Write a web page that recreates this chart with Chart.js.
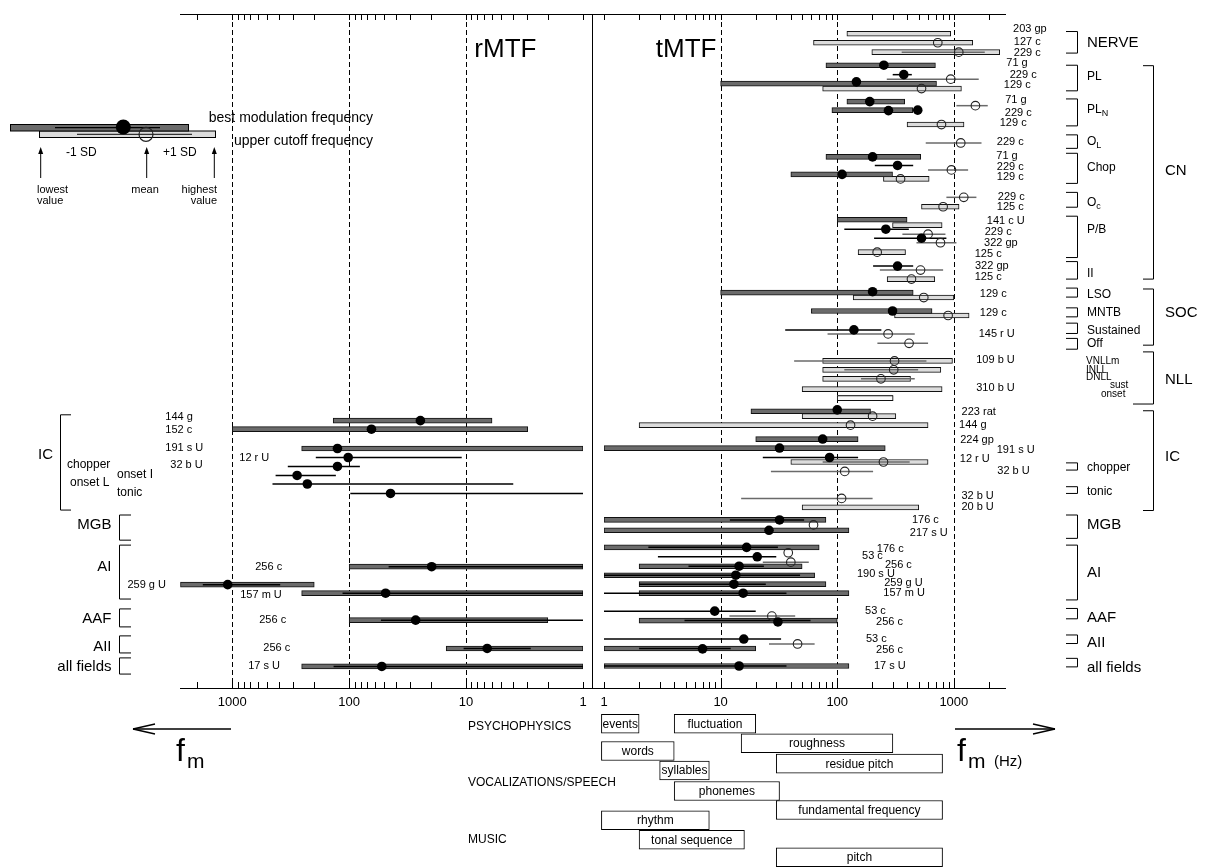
<!DOCTYPE html>
<html>
<head>
<meta charset="utf-8">
<script src="https://cdn.jsdelivr.net/npm/chart.js@4.4.1/dist/chart.umd.min.js"></script>
<style>
  body { margin: 0; background: #fff; }
  #wrap { position: relative; width: 1206px; height: 867px; background: #fff; }
  canvas { position: absolute; top: 0; }
</style>
</head>
<body>
<div id="wrap">
  <canvas id="rmtf" width="593" height="867" style="left:0"></canvas>
  <canvas id="tmtf" width="613" height="867" style="left:593px"></canvas>
  <canvas id="bands" width="1206" height="167" style="left:0;top:700px"></canvas>
</div>
<script>
// frequency axes (Hz)
const axisMax = 2800;
const decades = [1, 10, 100, 1000];
const decadeLabels = ['1', '10', '100', '1000'];
const dashedAt = [10, 100, 1000];

// rMTF (left panel) - best modulation frequency only. rows are [row, lowest, highest] or [row, mean]
const rBmfRange = [
  [90.5, 6.0, 137], [92.4, 2.97, 1000], [96.7, 1, 255],
  [123.0, 1, 100], [127.0, 199, 2773], [128.9, 1, 255],
  [134.9, 2.0, 100], [141.2, 1, 14.8], [145.2, 1, 255]
];
const rBmfMean = [
  [90.5, 24.6], [92.4, 64.5], [96.7, 126], [98.7, 102], [100.7, 126],
  [102.7, 279], [104.6, 228], [106.7, 44.3], [123.0, 19.7], [127.0, 1094],
  [128.9, 48.8], [134.9, 27], [141.2, 6.6], [145.2, 52.6]
];
const rBmfSD = [
  [98.7, 10.9, 193], [100.7, 81, 335], [102.7, 130, 426], [104.6, 3.95, 453],
  [106.7, 1, 97.8], [123.0, 1, 46], [127.0, 389, 1787], [128.9, 1, 114],
  [134.9, 1, 53.5], [141.2, 2.8, 10.5], [145.2, 1, 136]
];

// tMTF (right panel) - best modulation frequency
const tBmfRange = [
  [11.4, 80, 695], [15.5, 10, 710], [19.5, 121, 379], [21.4, 90, 444],
  [31.8, 80, 520], [35.7, 40, 298], [45.8, 100, 397], [62.0, 10, 448],
  [66.1, 60, 650], [88.4, 18.2, 193], [94.6, 20, 151], [96.6, 1, 258],
  [112.6, 1, 80], [114.9, 1, 126], [118.7, 1, 70], [122.9, 2, 50],
  [124.9, 1, 64], [126.9, 2, 80], [128.9, 2, 126], [135.0, 2, 100],
  [141.2, 1, 20], [145.1, 1, 126]
];
const tBmfMean = [
  [11.4, 251], [13.5, 372], [15.1, 146], [19.5, 190], [21.4, 490], [21.5, 275],
  [31.8, 201], [33.7, 329], [35.7, 110], [47.9, 261], [49.9, 528], [56.1, 329],
  [61.8, 201], [66.1, 298], [70.3, 139], [88.1, 100], [94.6, 75], [96.6, 32],
  [98.7, 86], [112.6, 32], [114.9, 26], [118.7, 16.7], [120.8, 20.6], [122.9, 14.4],
  [124.9, 13.5], [126.9, 13], [128.9, 15.6], [132.9, 8.9], [135.3, 31], [139.1, 15.8],
  [141.3, 7], [145.1, 14.4]
];
const tBmfSD = [
  [13.5, 299, 436], [33.7, 210, 448], [47.9, 115, 411], [49.9, 207, 863],
  [56.1, 203, 448], [70.3, 35.8, 239], [98.7, 23, 151], [112.6, 12, 52],
  [118.7, 2.4, 31], [120.8, 2.9, 30], [122.9, 5.3, 23.5], [124.9, 1, 48],
  [126.9, 2, 24.4], [128.9, 1, 36.7], [132.9, 1, 20], [135.0, 4.9, 59],
  [139.1, 1, 33], [141.2, 2, 12.2], [145.1, 1, 36.7]
];

// tMTF - upper cutoff frequency
const tUcfRange = [
  [4.4, 121, 940], [6.4, 62.6, 1452], [8.5, 198, 2473], [16.6, 75, 1161],
  [24.6, 397, 1222], [36.7, 249, 614], [42.9, 528, 1108], [47.0, 298, 793],
  [53.0, 151, 385], [59.0, 268, 686], [63.1, 137, 1000], [67.1, 310, 1351],
  [77.2, 75, 973], [79.2, 75, 773], [81.2, 75, 425], [83.5, 50, 793],
  [85.5, 100, 301], [89.5, 50, 318], [91.5, 2.0, 601], [99.7, 40, 601],
  [109.8, 50, 500]
];
const tUcfMean = [
  [6.4, 728], [8.5, 1102], [14.5, 940], [16.6, 528], [20.4, 1531], [24.6, 783],
  [28.7, 1146], [34.7, 953], [36.7, 349], [40.8, 1216], [42.9, 809], [49.0, 601],
  [50.9, 768], [53.0, 220], [57.0, 518], [59.0, 433], [63.1, 552], [67.1, 893],
  [71.2, 273], [73.3, 413], [77.2, 310], [79.2, 305], [81.2, 237], [89.5, 201],
  [91.5, 130], [99.7, 249], [101.8, 116], [107.8, 109], [113.7, 62.6], [119.9, 38],
  [122.0, 40], [134.0, 27.5], [140.2, 45.7]
];
const tUcfSD = [
  [8.5, 357, 1841], [14.5, 266, 1634], [20.4, 1052, 1953], [28.7, 574, 1726],
  [34.7, 601, 1325], [40.8, 863, 1561], [49.0, 362, 847], [50.9, 478, 1052],
  [57.0, 232, 809], [71.2, 82.6, 462], [73.3, 221, 601], [77.2, 42.7, 582],
  [79.2, 115, 494], [81.2, 160, 462], [99.7, 75, 418], [101.8, 27, 203],
  [107.8, 15, 201], [122.0, 23, 57], [134.0, 11.9, 43.6], [140.2, 26, 64]
];
// nearly unfilled cutoff bars (NLL onset)
const tUcfPale = [[85.5, 100, 301]];

// number of units + species, [text, row, anchor in Hz]
const rCounts = [
  ['144 g', 89.7, 3740], ['152 c', 92.6, 3740], ['191 s U', 96.5, 3740], ['32 b U', 100.3, 3390],
  ['12 r U', 98.8, 871], ['256 c', 123.0, 636], ['259 g U', 127.0, 7890], ['157 m U', 129.3, 855],
  ['256 c', 134.9, 588], ['256 c', 141.0, 543], ['17 s U', 145.2, 730]
];
const tCounts = [
  ['203 gp', 3.4, 6250], ['127 c', 6.2, 5560], ['229 c', 8.6, 5560],
  ['71 g', 11.0, 4300], ['229 c', 13.6, 5130], ['129 c', 15.8, 4560],
  ['71 g', 19.1, 4210], ['229 c', 22.0, 4650], ['129 c', 24.3, 4210],
  ['229 c', 28.5, 3970],
  ['71 g', 31.6, 3530], ['229 c', 34.1, 3970], ['129 c', 36.3, 3970],
  ['229 c', 40.7, 4050], ['125 c', 43.0, 3970],
  ['141 c U', 46.0, 4050], ['229 c', 48.5, 3130], ['322 gp', 51.0, 3530], ['125 c', 53.4, 2570],
  ['322 gp', 56.1, 2950], ['125 c', 58.5, 2570],
  ['129 c', 62.3, 2840], ['129 c', 66.5, 2840], ['145 r U', 71.2, 3330],
  ['109 b U', 77.0, 3330], ['310 b U', 83.2, 3330],
  ['223 rat', 88.6, 2290], ['144 g', 91.5, 1910], ['224 gp', 94.8, 2200],
  ['191 s U', 97.0, 4930], ['12 r U', 99.0, 2030], ['32 b U', 101.6, 4470],
  ['32 b U', 107.3, 2200], ['20 b U', 109.8, 2200],
  ['176 c', 112.6, 743], ['217 s U', 115.5, 887],
  ['176 c', 119.1, 372], ['53 c', 120.6, 246], ['256 c', 122.6, 436],
  ['190 s U', 124.7, 312], ['259 g U', 126.7, 541], ['157 m U', 128.9, 564],
  ['53 c', 132.8, 261], ['256 c', 135.3, 366],
  ['53 c', 139.1, 266], ['256 c', 141.6, 366],
  ['17 s U', 145.1, 387]
];

// regions: [name, top row, bottom row, label row]
const tRegions = [
  ['NERVE', 3.9, 8.7, 6.5], ['PL', 11.4, 17.1, 14.0], ['PL_N', 18.9, 24.9, 21.4],
  ['O_L', 26.9, 29.9, 28.5], ['Chop', 31.0, 37.7, 34.3], ['O_c', 39.7, 43.0, 42.1],
  ['P/B', 45.0, 54.2, 47.9], ['II', 55.1, 59.0, 57.9], ['LSO', 61.0, 63.0, 62.5],
  ['MNTB', 65.4, 67.4, 66.5], ['Sustained', 68.8, 71.1, 70.5], ['Off', 72.2, 74.6, 73.3],
  ['chopper', 99.9, 101.5, 100.9], ['tonic', 105.2, 106.7, 106.2],
  ['MGB', 111.5, 116.7, 113.7], ['AI', 118.2, 130.4, 124.4], ['AAF', 132.3, 134.6, 134.4],
  ['AII', 138.2, 140.1, 140.0], ['all fields', 143.4, 145.3, 145.6]
];
const tNuclei = [['CN', 11.5, 59.0, 34.9], ['SOC', 61.2, 73.7, 66.5], ['NLL', 75.2, 86.8, 81.5], ['IC', 88.3, 110.5, 98.5]];
const nllParts = [['VNLLm', 77.2], ['INLL', 79.2], ['DNLL', 80.9], ['sust', 82.6], ['onset', 84.6]];
const rRegions = [
  ['IC', 89.2, 110.4, 98.2], ['MGB', 111.5, 117.1, 113.7], ['AI', 118.2, 130.2, 123.0],
  ['AAF', 132.4, 136.4, 134.7], ['AII', 138.4, 142.2, 140.8], ['all fields', 143.3, 146.9, 145.4]
];
const icParts = [['chopper', 100.4], ['onset I', 102.6], ['onset L', 104.4], ['tonic', 106.6]];

// perception / vocalisation ranges (Hz)
const bandNames = ['events', 'fluctuation', 'roughness', 'residue pitch', 'words', 'syllables',
  'phonemes', 'fundamental frequency', 'rhythm', 'tonal sequence', 'pitch'];
const bandLo = [0.95, 4, 15, 30, 0.95, 3, 4, 30, 0.95, 2, 30];
const bandHi = [2, 20, 300, 800, 4, 8, 32, 800, 8, 16, 800];
const bandRow = [1.0, 1.0, 3.0, 5.1, 3.8, 5.8, 7.9, 9.85, 10.9, 12.9, 14.7];
const bandGroups = ['PSYCHOPHYSICS', 'VOCALIZATIONS/SPEECH', 'MUSIC'];
const bandGroupRow = [1.33, 7.08, 12.92];

const darkFill = '#6b6b6b';
const lightFill = '#dcdcdc';
const ink = '#111';

const font = size => size + 'px "Liberation Sans", Arial, Helvetica, sans-serif';
function text(ctx, str, x, y, size, align) {
  ctx.font = font(size);
  ctx.textAlign = align || 'left';
  ctx.textBaseline = 'middle';
  ctx.fillText(str, x, y);
}
// "PL_N" -> PL with subscript N
function subText(ctx, str, x, y, size) {
  const [main, sub] = str.split('_');
  text(ctx, main, x, y, size);
  if (sub) {
    ctx.font = font(size);
    const w = ctx.measureText(main).width;
    text(ctx, sub, x + w, y + size * 0.3, Math.round(size * 0.75));
  }
}
function seg(ctx, x1, y1, x2, y2) {
  ctx.beginPath(); ctx.moveTo(x1, y1); ctx.lineTo(x2, y2); ctx.stroke();
}

const tickValues = [];
for (let d = 1; d <= 1000; d *= 10) {
  for (let m = 1; m < 10; m++) if (m * d <= axisMax) tickValues.push(m * d);
}

const frame = {
  id: 'frame',
  beforeDatasetsDraw(chart, args, opts) {
    const { ctx, chartArea: a } = chart;
    const x = chart.scales.x;
    const from = opts.side === 'left' ? a.left : 0;
    const to = opts.side === 'left' ? chart.width : a.right;
    ctx.save();
    ctx.strokeStyle = '#000';
    ctx.fillStyle = '#000';
    ctx.lineWidth = 1;
    ctx.setLineDash([5, 3]);
    dashedAt.forEach(v => {
      const px = Math.round(x.getPixelForValue(v)) + 0.5;
      seg(ctx, px, a.top, px, a.bottom);
    });
    ctx.setLineDash([]);
    seg(ctx, from, a.top + 0.5, to, a.top + 0.5);
    seg(ctx, from, a.bottom + 0.5, to, a.bottom + 0.5);
    tickValues.forEach(v => {
      const px = Math.round(x.getPixelForValue(v)) + 0.5;
      seg(ctx, px, a.top, px, a.top + 6);
      seg(ctx, px, a.bottom - 6, px, a.bottom);
    });
    decades.forEach((v, i) => text(ctx, decadeLabels[i], x.getPixelForValue(v), a.bottom + 14, 13, 'center'));
    if (opts.side === 'left') seg(ctx, chart.width - 0.5, a.top, chart.width - 0.5, a.bottom);
    ctx.restore();
  }
};

function bars(rows, fill, order) {
  return {
    type: 'bar', indexAxis: 'y', grouped: false, barThickness: 5, order,
    data: rows.map(r => ({ x: [r[1], r[2]], y: r[0] })),
    backgroundColor: fill, borderColor: ink, borderWidth: 1, borderSkipped: false
  };
}
function sdLines(rows, color, order) {
  return rows.map(r => ({
    type: 'line', order, data: [{ x: r[1], y: r[0] }, { x: r[2], y: r[0] }],
    borderColor: color, borderWidth: 1.5, pointRadius: 0, fill: false
  }));
}
function dots(rows, open, order) {
  return {
    type: 'scatter', order,
    data: rows.map(r => ({ x: r[1], y: r[0] })),
    pointRadius: open ? 4.3 : 4.8,
    pointBackgroundColor: open ? 'rgba(0,0,0,0)' : '#000',
    pointBorderColor: open ? '#222' : '#000',
    pointBorderWidth: open ? 1.1 : 0
  };
}

function panelOptions(side, padding) {
  return {
    responsive: false, animation: false, events: [],
    layout: { padding, autoPadding: false },
    scales: {
      x: { type: 'logarithmic', min: 1, max: axisMax, reverse: side === 'left', display: false, offset: false },
      y: { type: 'linear', min: 0, max: 150, reverse: true, display: false, offset: false }
    },
    plugins: { legend: { display: false }, tooltip: { enabled: false }, frame: { side } }
  };
}

// left panel notes: key, labels, brackets
const leftNotes = {
  id: 'leftNotes',
  afterDraw(chart) {
    const { ctx } = chart;
    const x = chart.scales.x, y = chart.scales.y;
    ctx.save();
    ctx.fillStyle = '#000';
    ctx.strokeStyle = '#000';
    ctx.lineWidth = 1;
    text(ctx, 'rMTF', x.getPixelForValue(8.5), y.getPixelForValue(8.0), 26, 'left');

    rCounts.forEach(([s, row, hz]) => text(ctx, s, x.getPixelForValue(hz), y.getPixelForValue(row), 11, 'left'));

    rRegions.forEach(([name, top, bottom, lab]) => {
      const isIC = name === 'IC';
      const bx = isIC ? 60.5 : 119.5, tx = isIC ? 71 : 131;
      const t = y.getPixelForValue(top), b = y.getPixelForValue(bottom);
      seg(ctx, tx, t, bx, t); seg(ctx, bx, t, bx, b); seg(ctx, bx, b, tx, b);
      text(ctx, name, isIC ? 53 : 111.5, y.getPixelForValue(lab), 15, 'right');
    });
    icParts.forEach(([s, row]) => {
      const lx = s === 'chopper' ? 67 : s === 'onset L' ? 70 : 117;
      text(ctx, s, lx, y.getPixelForValue(row), 12, 'left');
    });

    // key
    ctx.fillStyle = lightFill;
    ctx.fillRect(39.5, 131, 176, 6.5);
    ctx.strokeRect(39.5, 131, 176, 6.5);
    ctx.fillStyle = darkFill;
    ctx.fillRect(10.5, 124.5, 178, 6.5);
    ctx.strokeRect(10.5, 124.5, 178, 6.5);
    ctx.lineWidth = 1.2;
    seg(ctx, 55, 127.7, 160, 127.7);
    ctx.strokeStyle = '#333';
    seg(ctx, 77, 134.3, 192, 134.3);
    ctx.fillStyle = '#000';
    ctx.beginPath(); ctx.arc(123.3, 127, 7.5, 0, Math.PI * 2); ctx.fill();
    ctx.strokeStyle = '#222';
    ctx.beginPath(); ctx.arc(146, 134.3, 7, 0, Math.PI * 2); ctx.stroke();
    text(ctx, 'best modulation frequency', 373, 118, 14, 'right');
    text(ctx, 'upper cutoff frequency', 373, 141, 14, 'right');
    text(ctx, '-1 SD', 66, 153, 12, 'left');
    text(ctx, '+1 SD', 163, 153, 12, 'left');
    ctx.strokeStyle = '#000';
    ctx.lineWidth = 1;
    [40.7, 146.7, 214.3].forEach(ax => {
      seg(ctx, ax, 178, ax, 151);
      ctx.beginPath(); ctx.moveTo(ax, 147); ctx.lineTo(ax - 2.5, 154); ctx.lineTo(ax + 2.5, 154); ctx.closePath(); ctx.fill();
    });
    text(ctx, 'lowest', 37, 190, 11, 'left');
    text(ctx, 'value', 37, 201, 11, 'left');
    text(ctx, 'mean', 145, 190, 11, 'center');
    text(ctx, 'highest', 217, 190, 11, 'right');
    text(ctx, 'value', 217, 201, 11, 'right');
    ctx.restore();
  }
};

// right panel notes: counts, region brackets
const rightNotes = {
  id: 'rightNotes',
  afterDraw(chart) {
    const { ctx, chartArea: a } = chart;
    const x = chart.scales.x, y = chart.scales.y;
    ctx.save();
    ctx.fillStyle = '#000';
    ctx.strokeStyle = '#000';
    ctx.lineWidth = 1;
    text(ctx, 'tMTF', x.getPixelForValue(9.2), y.getPixelForValue(8.0), 26, 'right');

    tCounts.forEach(([s, row, hz]) => text(ctx, s, x.getPixelForValue(hz), y.getPixelForValue(row), 11, 'right'));

    const major = ['NERVE', 'MGB', 'AI', 'AAF', 'AII', 'all fields'];
    tRegions.forEach(([name, top, bottom, lab]) => {
      const l = a.right + 60, r = a.right + 71.5;
      const t = y.getPixelForValue(top), b = y.getPixelForValue(bottom);
      seg(ctx, l, t, r, t); seg(ctx, r, t, r, b); seg(ctx, r, b, l, b);
      subText(ctx, name, a.right + 81, y.getPixelForValue(lab), major.includes(name) ? 15 : 12);
    });
    tNuclei.forEach(([name, top, bottom, lab]) => {
      const l = a.right + 137, r = a.right + 147.5;
      const t = y.getPixelForValue(top), b = y.getPixelForValue(bottom);
      seg(ctx, l, t, r, t); seg(ctx, r, t, r, b);
      seg(ctx, r, b, name === 'NLL' ? a.right + 127 : l, b);
      text(ctx, name, a.right + 159, y.getPixelForValue(lab), 15, 'left');
    });
    nllParts.forEach(([s, row]) => {
      const lx = s === 'sust' ? a.right + 104 : s === 'onset' ? a.right + 95 : a.right + 80;
      text(ctx, s, lx, y.getPixelForValue(row), 10, 'left');
    });
    ctx.restore();
  }
};

const bandNotes = {
  id: 'bandNotes',
  afterDatasetsDraw(chart) {
    const { ctx } = chart;
    const x = chart.scales.x, y = chart.scales.y;
    ctx.save();
    ctx.fillStyle = '#000';
    ctx.strokeStyle = '#000';
    bandNames.forEach((s, i) => {
      const cx = (x.getPixelForValue(bandLo[i]) + x.getPixelForValue(bandHi[i])) / 2;
      text(ctx, s, cx, y.getPixelForValue(bandRow[i]) + 0.5, 12, 'center');
    });
    bandGroups.forEach((s, i) => text(ctx, s, 468, y.getPixelForValue(bandGroupRow[i]), 12, 'left'));

    // f_m arrows
    ctx.lineWidth = 1.3;
    seg(ctx, 231, 29, 133, 29);
    seg(ctx, 133, 29, 155, 24); seg(ctx, 133, 29, 155, 34);
    seg(ctx, 955, 29, 1055, 29);
    seg(ctx, 1055, 29, 1033, 24); seg(ctx, 1055, 29, 1033, 34);
    text(ctx, 'f', 176, 52, 32, 'left');
    text(ctx, 'm', 187, 62, 21, 'left');
    text(ctx, 'f', 957, 52, 32, 'left');
    text(ctx, 'm', 968, 62, 21, 'left');
    text(ctx, '(Hz)', 994, 62, 15, 'left');
    ctx.restore();
  }
};

new Chart(document.getElementById('rmtf'), {
  type: 'bar',
  data: {
    datasets: [
      bars(rBmfRange, darkFill, 5),
      ...sdLines(rBmfSD, '#000', 3),
      dots(rBmfMean, false, 1)
    ]
  },
  options: panelOptions('left', { left: 180, right: 10, top: 14, bottom: 179 }),
  plugins: [frame, leftNotes]
});

new Chart(document.getElementById('tmtf'), {
  type: 'bar',
  data: {
    datasets: [
      bars(tUcfRange, lightFill, 7),
      bars(tUcfPale, '#fafafa', 6),
      bars(tBmfRange, darkFill, 5),
      ...sdLines(tUcfSD, '#6a6a6a', 4),
      ...sdLines(tBmfSD, '#000', 3),
      dots(tUcfMean, true, 2),
      dots(tBmfMean, false, 1)
    ]
  },
  options: panelOptions('right', { left: 11, right: 200, top: 14, bottom: 179 }),
  plugins: [frame, rightNotes]
});

new Chart(document.getElementById('bands'), {
  type: 'bar',
  data: {
    datasets: [{
      type: 'bar', indexAxis: 'y', grouped: false, barThickness: 19, clip: false,
      data: bandLo.map((lo, i) => ({ x: [lo, bandHi[i]], y: bandRow[i] })),
      backgroundColor: '#fff', borderColor: '#000', borderWidth: 1, borderSkipped: false
    }]
  },
  options: {
    responsive: false, animation: false, events: [],
    layout: { padding: { left: 604, right: 200, top: 14, bottom: 0 }, autoPadding: false },
    scales: {
      x: { type: 'logarithmic', min: 1, max: axisMax, display: false, offset: false },
      y: { type: 'linear', min: 0, max: 15.7, reverse: true, display: false, offset: false }
    },
    plugins: { legend: { display: false }, tooltip: { enabled: false } }
  },
  plugins: [bandNotes]
});
</script>
</body>
</html>
